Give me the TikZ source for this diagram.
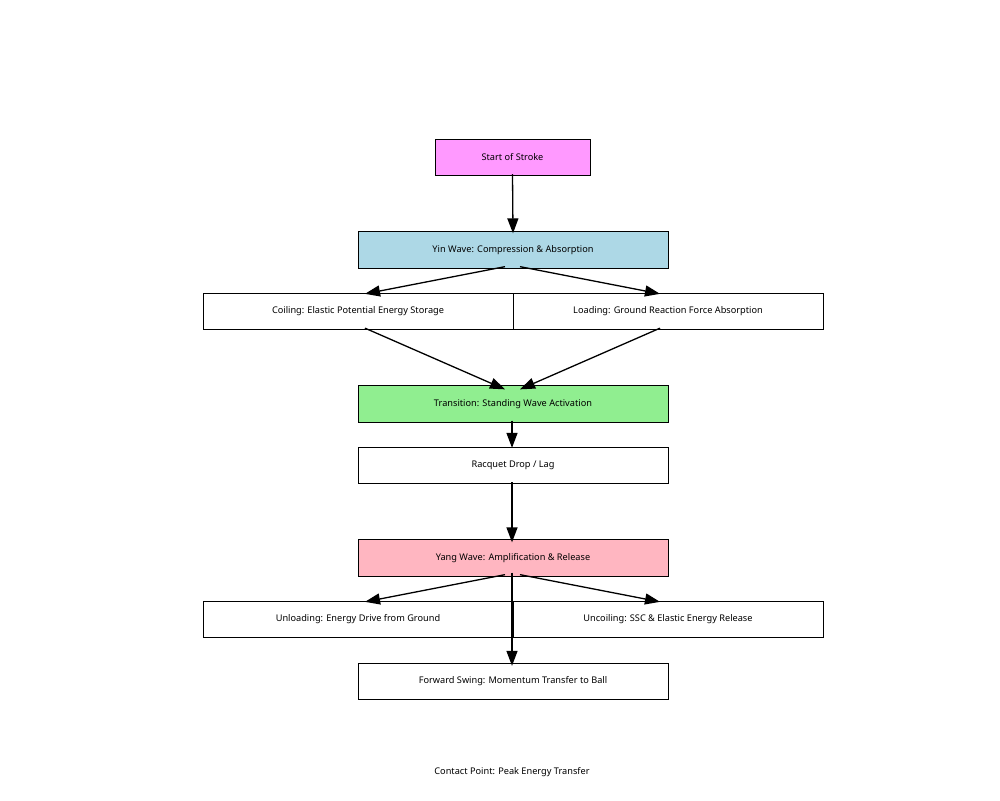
\documentclass[tikz,border=0pt]{standalone}
\usepackage{fontspec}
\setmainfont{Noto Sans}
\usetikzlibrary{arrows.meta}
\definecolor{cstart}{HTML}{FF99FF}
\definecolor{cyin}{HTML}{ADD8E6}
\definecolor{ctrans}{HTML}{90EE90}
\definecolor{cyang}{HTML}{FFB6C1}
\begin{document}
\begin{tikzpicture}[x=1pt,y=-1pt,
  box/.style={draw=black,line width=0.8pt,minimum width=310pt,minimum height=36.5pt,inner sep=0pt,font=\fontsize{9.2}{11}\selectfont},
  arr/.style={line width=1.3pt,-{Triangle[length=15pt,width=11pt]}}]
\useasboundingbox (0,0) rectangle (1000,800);
\node[box,fill=cstart,minimum width=155pt] (start) at (512.5,157.5) {Start of Stroke};
\node[box,fill=cyin] (yin) at (513,250) {Yin Wave: Compression \& Absorption};
\node[box] (coil) at (358,311.5) {Coiling: Elastic Potential Energy Storage};
\node[box] (load) at (668,311.5) {Loading: Ground Reaction Force Absorption};
\node[box,fill=ctrans] (trans) at (513,404) {Transition: Standing Wave Activation};
\node[box] (drop) at (513,465.5) {Racquet Drop / Lag};
\node[box,fill=cyang] (yang) at (513,558) {Yang Wave: Amplification \& Release};
\node[box] (unl) at (358,619.5) {Unloading: Energy Drive from Ground};
\node[box] (unc) at (668,619.5) {Uncoiling: SSC \& Elastic Energy Release};
\node[box] (fwd) at (513,681.5) {Forward Swing: Momentum Transfer to Ball};
\node[font=\fontsize{9.2}{11}\selectfont] (contact) at (512,772) {Contact Point: Peak Energy Transfer};
\draw[arr] ([yshift=2]start.south) -- ([yshift=-2]yin.north);
\draw[arr] ([xshift=-8,yshift=2]yin.south) -- ([xshift=7,yshift=-1]coil.north);
\draw[arr] ([xshift=7,yshift=2]yin.south) -- ([xshift=-8,yshift=-1]load.north);
\draw[arr] ([xshift=7,yshift=2]coil.south) -- ([xshift=-8,yshift=-4]trans.north);
\draw[arr] ([xshift=-8,yshift=2]load.south) -- ([xshift=7,yshift=-4]trans.north);
\draw[arr] ([xshift=-1,yshift=2]trans.south) -- ([xshift=-1,yshift=-1]drop.north);
\draw[arr] ([xshift=-1,yshift=2]drop.south) -- ([xshift=-1,yshift=-3]yang.north);
\draw[arr] ([xshift=-8,yshift=2]yang.south) -- ([xshift=7,yshift=-1]unl.north);
\draw[arr] ([xshift=7,yshift=2]yang.south) -- ([xshift=-8,yshift=-1]unc.north);
\draw[arr] ([xshift=-1,yshift=4]yang.south) -- ([xshift=-1,yshift=-3]fwd.north);
\end{tikzpicture}
\end{document}
